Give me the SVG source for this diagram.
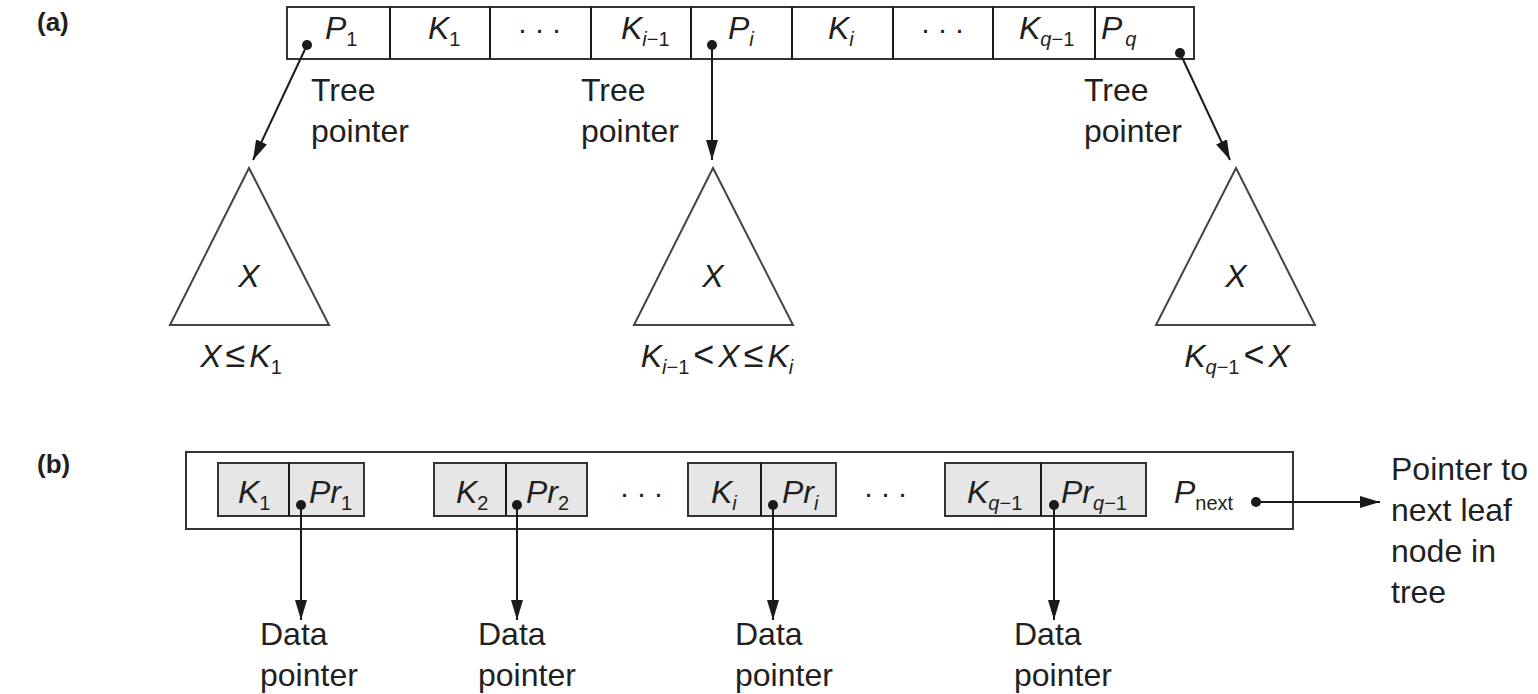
<svg xmlns="http://www.w3.org/2000/svg" width="1538" height="694" viewBox="0 0 1538 694">
<defs>
<marker id="ah" viewBox="0 0 20 12" refX="20" refY="6" markerWidth="20" markerHeight="12" markerUnits="userSpaceOnUse" orient="auto">
<path d="M0,0 L20,6 L0,12 Z" fill="#1a1a1a"/>
</marker>
<style>
text{font-family:"Liberation Sans",Arial,sans-serif;fill:#231f20}
.lbl{font-size:32px}
.m{font-size:32px;font-style:italic}
.sub{font-size:20px;font-style:normal}
.subi{font-size:20px;font-style:italic}
.op{font-size:36px;font-style:normal}
.hd{font-size:26px;font-weight:bold}
.box{fill:#fff;stroke:#333;stroke-width:2}
.cell{fill:#e6e6e6;stroke:#333;stroke-width:2}
.tri{fill:#fff;stroke:#444;stroke-width:2}
.ln{stroke:#1a1a1a;stroke-width:2;fill:none}
.dot{fill:#1a1a1a}
.dt{font-size:30px;letter-spacing:7px}
</style>
</defs>
<rect width="1538" height="694" fill="#fff"/>

<g id="label-a"><text class="hd" x="37" y="31">(a)</text></g>
<g id="label-b"><text class="hd" x="37" y="473">(b)</text></g>

<g id="internal-node">
<rect class="box" x="287" y="7" width="907" height="52"/>
<path class="ln" d="M390,7V59M490,7V59M591,7V59M691,7V59M792,7V59M893,7V59M993,7V59M1095,7V59"/>
<text class="m" x="325" y="39">P<tspan class="sub" dy="7">1</tspan></text>
<text class="m" x="428" y="39">K<tspan class="sub" dy="7">1</tspan></text>
<text class="dt" x="543" y="39" text-anchor="middle">···</text>
<text class="m" x="621" y="39">K<tspan class="subi" dy="7">i</tspan><tspan class="sub">−1</tspan></text>
<text class="m" x="728" y="39">P<tspan class="subi" dy="7">i</tspan></text>
<text class="m" x="828" y="39">K<tspan class="subi" dy="7">i</tspan></text>
<text class="dt" x="946" y="39" text-anchor="middle">···</text>
<text class="m" x="1019" y="39">K<tspan class="subi" dy="7">q</tspan><tspan class="sub">−1</tspan></text>
<text class="m" x="1101" y="39">P<tspan class="subi" dy="7" dx="3">q</tspan></text>
<circle class="dot" cx="307" cy="45" r="5"/>
<circle class="dot" cx="712" cy="45" r="5"/>
<circle class="dot" cx="1180" cy="53" r="5"/>
</g>

<g id="tree-pointer-labels">
<text class="lbl" x="311" y="101">Tree</text>
<text class="lbl" x="311" y="142">pointer</text>
<text class="lbl" x="581" y="101">Tree</text>
<text class="lbl" x="581" y="142">pointer</text>
<text class="lbl" x="1084" y="101">Tree</text>
<text class="lbl" x="1084" y="142">pointer</text>
</g>

<g id="subtree-1">
<path class="tri" d="M249,168 L170,325 L329,325 Z"/>
<text class="m" x="249" y="287" text-anchor="middle">X</text>
<text class="m" x="241" y="367" text-anchor="middle">X<tspan class="op" dx="4">≤</tspan><tspan dx="4">K</tspan><tspan class="sub" dy="7">1</tspan></text>
</g>
<g id="subtree-i">
<path class="tri" d="M713,168 L634,325 L793,325 Z"/>
<text class="m" x="713" y="287" text-anchor="middle">X</text>
<text class="m" x="717" y="367" text-anchor="middle">K<tspan class="subi" dy="7">i</tspan><tspan class="sub">−1</tspan><tspan class="op" dy="-7" dx="4">&lt;</tspan><tspan dx="4">X</tspan><tspan class="op" dx="4">≤</tspan><tspan dx="4">K</tspan><tspan class="subi" dy="7">i</tspan></text>
</g>
<g id="subtree-q">
<path class="tri" d="M1236,168 L1156,325 L1315,325 Z"/>
<text class="m" x="1237" y="367" text-anchor="middle">K<tspan class="subi" dy="7">q</tspan><tspan class="sub">−1</tspan><tspan class="op" dy="-7" dx="4">&lt;</tspan><tspan dx="4">X</tspan></text>
<text class="m" x="1236" y="287" text-anchor="middle">X</text>
</g>

<g id="leaf-node">
<rect class="box" x="186" y="452" width="1107" height="77"/>
<rect class="cell" x="218" y="463" width="146" height="53"/>
<path class="ln" d="M289,463V516"/>
<rect class="cell" x="434" y="463" width="153" height="53"/>
<path class="ln" d="M506,463V516"/>
<rect class="cell" x="688" y="463" width="148" height="53"/>
<path class="ln" d="M761,463V516"/>
<rect class="cell" x="945" y="463" width="201" height="53"/>
<path class="ln" d="M1041,463V516"/>
<text class="m" x="238" y="503">K<tspan class="sub" dy="7">1</tspan></text>
<text class="m" x="309" y="503">Pr<tspan class="sub" dy="7">1</tspan></text>
<text class="m" x="456" y="503">K<tspan class="sub" dy="7">2</tspan></text>
<text class="m" x="526" y="503">Pr<tspan class="sub" dy="7">2</tspan></text>
<text class="dt" x="645" y="503" text-anchor="middle">···</text>
<text class="m" x="711" y="503">K<tspan class="subi" dy="7">i</tspan></text>
<text class="m" x="782" y="503">Pr<tspan class="subi" dy="7">i</tspan></text>
<text class="dt" x="889" y="503" text-anchor="middle">···</text>
<text class="m" x="967" y="503">K<tspan class="subi" dy="7">q</tspan><tspan class="sub">−1</tspan></text>
<text class="m" x="1061" y="503">Pr<tspan class="subi" dy="7">q</tspan><tspan class="sub">−1</tspan></text>
<text class="m" x="1174" y="503">P<tspan class="sub" dy="7">next</tspan></text>
<circle class="dot" cx="301" cy="505" r="5"/>
<circle class="dot" cx="517" cy="505" r="5"/>
<circle class="dot" cx="773" cy="505" r="5"/>
<circle class="dot" cx="1054" cy="505" r="5"/>
<circle class="dot" cx="1256" cy="502" r="5"/>
</g>

<g id="data-pointer-labels">
<text class="lbl" x="260" y="645">Data</text>
<text class="lbl" x="260" y="686">pointer</text>
<text class="lbl" x="478" y="645">Data</text>
<text class="lbl" x="478" y="686">pointer</text>
<text class="lbl" x="735" y="645">Data</text>
<text class="lbl" x="735" y="686">pointer</text>
<text class="lbl" x="1014" y="645">Data</text>
<text class="lbl" x="1014" y="686">pointer</text>
</g>

<g id="next-leaf-label">
<text class="lbl" x="1391" y="480">Pointer to</text>
<text class="lbl" x="1391" y="521">next leaf</text>
<text class="lbl" x="1391" y="562">node in</text>
<text class="lbl" x="1391" y="603">tree</text>
</g>

<g id="connectors">
<line class="ln" x1="307" y1="45" x2="253" y2="160" marker-end="url(#ah)"/>
<line class="ln" x1="712" y1="45" x2="712" y2="160" marker-end="url(#ah)"/>
<line class="ln" x1="1180" y1="53" x2="1230" y2="160" marker-end="url(#ah)"/>
<line class="ln" x1="301" y1="505" x2="301" y2="620" marker-end="url(#ah)"/>
<line class="ln" x1="517" y1="505" x2="517" y2="620" marker-end="url(#ah)"/>
<line class="ln" x1="773" y1="505" x2="773" y2="620" marker-end="url(#ah)"/>
<line class="ln" x1="1054" y1="505" x2="1054" y2="620" marker-end="url(#ah)"/>
<line class="ln" x1="1256" y1="502" x2="1380" y2="502" marker-end="url(#ah)"/>
</g>
</svg>
